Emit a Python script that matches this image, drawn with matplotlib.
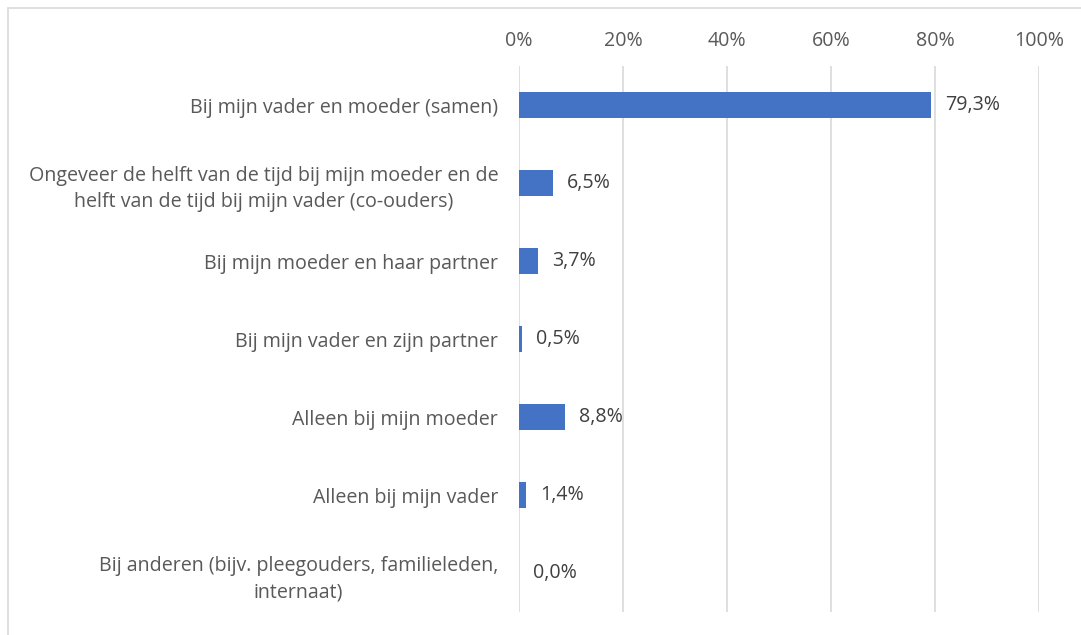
import matplotlib
matplotlib.use("Agg")
import matplotlib.pyplot as plt
from matplotlib.patches import Rectangle

categories = [
    "Bij mijn vader en moeder (samen)",
    "Ongeveer de helft van de tijd bij mijn moeder en de\nhelft van de tijd bij mijn vader (co-ouders)",
    "Bij mijn moeder en haar partner",
    "Bij mijn vader en zijn partner",
    "Alleen bij mijn moeder",
    "Alleen bij mijn vader",
    "Bij anderen (bijv. pleegouders, familieleden,\ninternaat)",
]
values = [79.3, 6.5, 3.7, 0.5, 8.8, 1.4, 0.0]
ticks = [0, 20, 40, 60, 80, 100]
tick_labels = ["0%", "20%", "40%", "60%", "80%", "100%"]

plt.rcParams['font.family'] = ['Open Sans', 'DejaVu Sans']
W, H = 1081, 635
fig = plt.figure(figsize=(W / 100, H / 100), dpi=100)
ax = fig.add_axes([519 / W, 1 - 612 / H, 520 / W, 546 / H])

txt = "#595959"
fs = 14.1
y = list(range(len(categories)))
ax.barh(y, values, height=0.345, color="#4472C4", zorder=3)
ax.set_ylim(len(categories) - 0.5, -0.5)
ax.set_xlim(0, 100)
ax.set_xticks(ticks)
ax.set_xticklabels(tick_labels, color=txt, fontsize=fs)
ax.xaxis.tick_top()
ax.tick_params(axis='x', length=0, pad=11)
ax.set_yticks(y)
ax.set_yticklabels(categories, color=txt, fontsize=fs, linespacing=1.45)
for t in ax.get_yticklabels():
    t.set_multialignment('center')
ax.tick_params(axis='y', length=0, pad=15)
ax.grid(axis='x', color="#D9D9D9", linewidth=1.2, zorder=0)
for s in ax.spines.values():
    s.set_visible(False)

for yi, v in zip(y, values):
    ax.annotate(f"{v:.1f}%".replace(".", ","), (v, yi), xytext=(14, 0),
                textcoords="offset pixels",
                va="center", ha="left", color="#404040", fontsize=fs, zorder=4)

fig.patches.append(Rectangle((8 / W, -0.1), 1.2, 1 - 8 / H + 0.1,
                             transform=fig.transFigure, fill=False,
                             edgecolor="#D9D9D9", linewidth=1.2))
fig.savefig("out.png", dpi=100, facecolor="white")
